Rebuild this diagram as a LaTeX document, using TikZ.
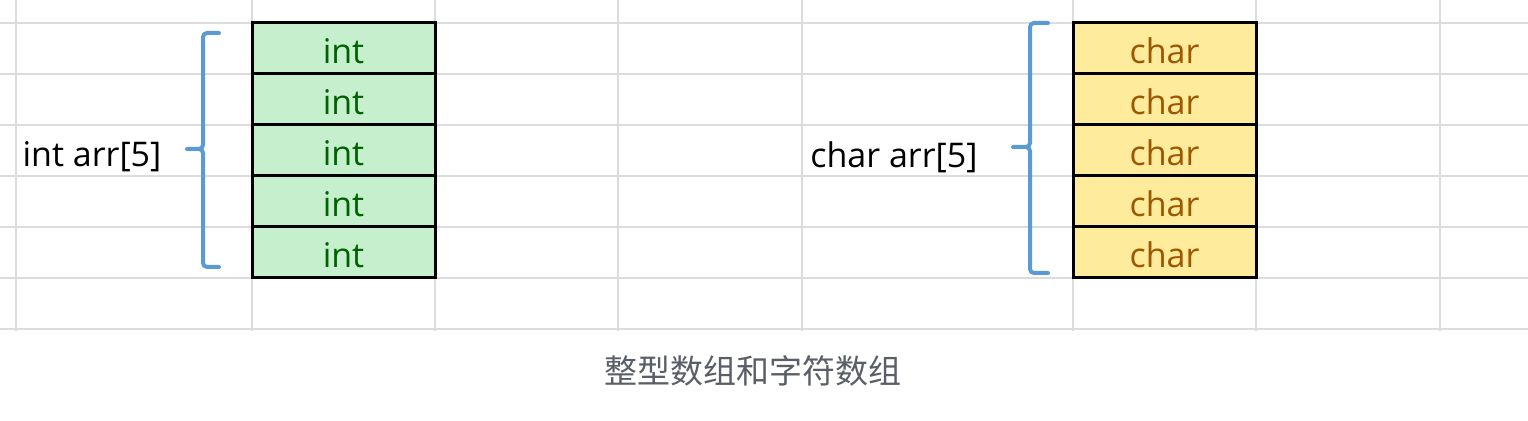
\documentclass[tikz,border=0pt]{standalone}
\usepackage{fontspec}
\setmainfont{Open Sans}
\newfontfamily\cjk{Noto Sans CJK SC}
\definecolor{gridc}{HTML}{DCDCDC}
\definecolor{gfill}{HTML}{C6EFCE}
\definecolor{gtext}{HTML}{006100}
\definecolor{yfill}{HTML}{FFEB9C}
\definecolor{ytext}{HTML}{9C5700}
\definecolor{bracec}{HTML}{5B9BD5}
\definecolor{capc}{HTML}{5A5E66}
\tikzset{
  gridline/.style={draw=gridc, line width=1pt},
  cellbase/.style={draw=black, line width=1.5pt, minimum width=91.5pt, minimum height=25.5pt,
     inner sep=0pt, outer sep=0pt, text height=14.8pt, text depth=0pt, font=\fontsize{17}{20}\selectfont},
  intcell/.style={cellbase, fill=gfill, text=gtext},
  charcell/.style={cellbase, fill=yfill, text=ytext},
  bracket/.style={draw=bracec, line width=2pt, line cap=round, line join=round, rounded corners=2pt},
  lbl/.style={font=\fontsize{17}{20}\selectfont, text=black, inner sep=0pt},
  captext/.style={font=\cjk\fontsize{16.5}{19}\selectfont, text=capc, inner sep=0pt}
}
\begin{document}
\begin{tikzpicture}[x=0.5pt,y=-0.5pt]
\useasboundingbox (0,0) rectangle (1528,421);
\fill[white] (0,0) rectangle (1528,421);
% grid
\foreach \yy in {23,74,125,176,227,278,329} \draw[gridline] (0,\yy) -- (1528,\yy);
\foreach \xx in {16,252,435,618,802,1073,1256,1440} \draw[gridline] (\xx,0) -- (\xx,331);
% cells
\foreach \i in {0,...,4} {
  \node[intcell] (i\i) at (343.5,{48.5+51*\i}) {int};
  \node[charcell] (c\i) at (1164.5,{48.5+51*\i}) {char};
}
% labels
\node[lbl] (lint) at (92,157) {int arr[5]};
\node[lbl] (lchar) at (894,157) {char arr[5]};
% brackets
\draw[bracket] (219,33) -- (203,33) -- (203,149) -- (187,149);
\draw[bracket] (199,149) -- (203,149) -- (203,267) -- (219,267);
\draw[bracket] (1048,23) -- (1030,23) -- (1030,147) -- (1013,147);
\draw[bracket] (1026,147) -- (1030,147) -- (1030,273) -- (1048,273);
% caption
\node[captext] (caption) at (753,371) {整型数组和字符数组};
\end{tikzpicture}
\end{document}
